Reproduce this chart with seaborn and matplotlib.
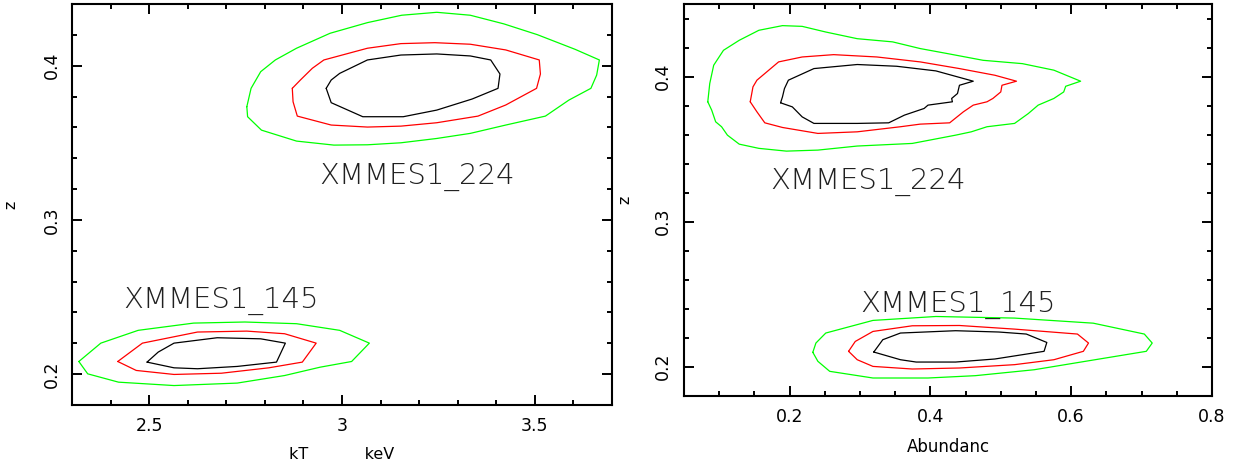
import matplotlib
matplotlib.use("Agg")
import matplotlib.pyplot as plt
import seaborn as sns
from matplotlib.ticker import MultipleLocator

sns.set_style("ticks")
plt.rcParams["font.family"] = ["DejaVu Sans"]
plt.rcParams["text.color"] = "black"
plt.rcParams["axes.labelcolor"] = "black"
plt.rcParams["xtick.color"] = "black"
plt.rcParams["ytick.color"] = "black"

# --- contornos kT x z (XMMES1_224) ---
kt224_green_x = [2.753, 2.764, 2.789, 2.827, 2.882, 2.969, 3.066, 3.155, 3.246, 3.333, 3.420, 3.507,
                 3.605, 3.668, 3.661, 3.646, 3.589, 3.528, 3.425, 3.333, 3.246, 3.153, 3.066, 2.979,
                 2.882, 2.791, 2.755]
kt224_green_y = [0.3734, 0.3853, 0.3961, 0.4037, 0.4113, 0.4210, 0.4279, 0.4327, 0.4346, 0.4327, 0.4271, 0.4201,
                 0.4106, 0.4037, 0.3939, 0.3853, 0.3777, 0.3673, 0.3615, 0.3561, 0.3528, 0.3500, 0.3487, 0.3485,
                 0.3511, 0.3582, 0.3669]
kt224_red_x = [2.871, 2.873, 2.884, 2.972, 3.066, 3.153, 3.246, 3.353, 3.425, 3.505, 3.515, 3.512,
               3.425, 3.333, 3.241, 3.153, 3.066, 2.953, 2.923, 2.892]
kt224_red_y = [0.3853, 0.3766, 0.3673, 0.3615, 0.3602, 0.3608, 0.3630, 0.3673, 0.3745, 0.3853, 0.3946, 0.4037,
               0.4102, 0.4139, 0.4149, 0.4143, 0.4113, 0.4037, 0.3983, 0.3907]
kt224_black_x = [2.959, 2.972, 3.054, 3.159, 3.246, 3.338, 3.405, 3.410, 3.386, 3.333, 3.246, 3.153,
                 3.066, 2.994, 2.972]
kt224_black_y = [0.3853, 0.3760, 0.3669, 0.3669, 0.3712, 0.3784, 0.3853, 0.3946, 0.4037, 0.4063, 0.4076, 0.4069,
                 0.4037, 0.3950, 0.3907]

# --- contornos kT x z (XMMES1_145) ---
kt145_green_x = [2.317, 2.340, 2.420, 2.564, 2.728, 2.851, 2.943, 3.025, 3.071, 2.994, 2.882, 2.748, 2.615,
                 2.471, 2.374]
kt145_green_y = [0.2082, 0.2002, 0.1948, 0.1926, 0.1942, 0.1991, 0.2045, 0.2082, 0.2201, 0.2284, 0.2327, 0.2338,
                 0.2331, 0.2284, 0.2201]
kt145_red_x = [2.418, 2.466, 2.564, 2.687, 2.810, 2.897, 2.933, 2.851, 2.753, 2.625, 2.482]
kt145_red_y = [0.2082, 0.2024, 0.1998, 0.2006, 0.2041, 0.2078, 0.2201, 0.2262, 0.2279, 0.2273, 0.2201]
kt145_black_x = [2.494, 2.564, 2.625, 2.728, 2.830, 2.853, 2.789, 2.676, 2.564, 2.523]
kt145_black_y = [0.2078, 0.2041, 0.2035, 0.2050, 0.2078, 0.2201, 0.2229, 0.2236, 0.2201, 0.2143]

# --- contornos Abundancia x z (XMMES1_224) ---
ab224_green_x = [0.0838, 0.0866, 0.0922, 0.1061, 0.1285, 0.1564, 0.1899, 0.2179, 0.2514, 0.2961, 0.3464, 0.3855,
                 0.4246, 0.4749, 0.5307, 0.5754, 0.6134, 0.5922, 0.5894, 0.5754, 0.5531, 0.5391, 0.5196, 0.4804,
                 0.4581, 0.4358, 0.3743, 0.2961, 0.2402, 0.1955, 0.1564, 0.1285, 0.1117, 0.1034, 0.0950, 0.0894]
ab224_green_y = [0.3826, 0.3952, 0.4078, 0.4181, 0.4250, 0.4319, 0.4351, 0.4346, 0.4307, 0.4261, 0.4239, 0.4193,
                 0.4158, 0.4112, 0.4089, 0.4044, 0.3968, 0.3933, 0.3894, 0.3849, 0.3803, 0.3745, 0.3677, 0.3654,
                 0.3619, 0.3596, 0.3539, 0.3521, 0.3493, 0.3486, 0.3505, 0.3534, 0.3596, 0.3654, 0.3688, 0.3768]
ab224_red_x = [0.1441, 0.1480, 0.1536, 0.1844, 0.2179, 0.2626, 0.3240, 0.3855, 0.4413, 0.4916, 0.5223, 0.5017,
               0.5000, 0.4888, 0.4804, 0.4609, 0.4469, 0.4274, 0.3855, 0.3575, 0.2961, 0.2402, 0.1899, 0.1648,
               0.1536]
ab224_red_y = [0.3826, 0.3929, 0.3975, 0.4101, 0.4135, 0.4151, 0.4135, 0.4101, 0.4055, 0.4009, 0.3968, 0.3940,
               0.3894, 0.3849, 0.3826, 0.3803, 0.3757, 0.3681, 0.3672, 0.3654, 0.3619, 0.3608, 0.3649, 0.3681,
               0.3757]
ab224_black_x = [0.1872, 0.1899, 0.1927, 0.1983, 0.2346, 0.2961, 0.3520, 0.4078, 0.4609, 0.4413, 0.4385, 0.4302,
                 0.4313, 0.3966, 0.3911, 0.3631, 0.3408, 0.2961, 0.2346, 0.2179, 0.2039]
ab224_black_y = [0.3819, 0.3860, 0.3917, 0.3975, 0.4055, 0.4083, 0.4071, 0.4039, 0.3968, 0.3940, 0.3883, 0.3849,
                 0.3826, 0.3803, 0.3780, 0.3734, 0.3681, 0.3677, 0.3677, 0.3722, 0.3791]

# --- contornos Abundancia x z (XMMES1_145) ---
ab145_green_x = [0.2330, 0.2402, 0.2570, 0.3184, 0.3966, 0.4637, 0.5475, 0.6201, 0.7067, 0.7151, 0.7039, 0.6313,
                 0.5196, 0.4078, 0.3184, 0.2514, 0.2374]
ab145_green_y = [0.2099, 0.2037, 0.1968, 0.1922, 0.1922, 0.1938, 0.1979, 0.2037, 0.2106, 0.2163, 0.2225, 0.2300,
                 0.2335, 0.2346, 0.2319, 0.2232, 0.2163]
ab145_red_x = [0.2838, 0.2961, 0.3184, 0.3743, 0.4413, 0.5196, 0.5754, 0.6173, 0.6246, 0.6089, 0.5196, 0.4413,
               0.3743, 0.3184, 0.2933]
ab145_red_y = [0.2106, 0.2048, 0.2002, 0.1984, 0.1991, 0.2014, 0.2048, 0.2106, 0.2163, 0.2225, 0.2259, 0.2284,
               0.2282, 0.2243, 0.2174]
ab145_black_x = [0.3196, 0.3575, 0.3799, 0.4358, 0.4916, 0.5615, 0.5654, 0.5363, 0.4972, 0.4358, 0.3575, 0.3324]
ab145_black_y = [0.2101, 0.2048, 0.2032, 0.2032, 0.2053, 0.2106, 0.2167, 0.2225, 0.2239, 0.2248, 0.2232, 0.2186]

cores = {"green": "#00ff00", "red": "#ff0000", "black": "#000000"}

painel_kt = [
    (kt224_green_x, kt224_green_y, "green"), (kt224_red_x, kt224_red_y, "red"), (kt224_black_x, kt224_black_y, "black"),
    (kt145_green_x, kt145_green_y, "green"), (kt145_red_x, kt145_red_y, "red"), (kt145_black_x, kt145_black_y, "black"),
]
painel_ab = [
    (ab224_green_x, ab224_green_y, "green"), (ab224_red_x, ab224_red_y, "red"), (ab224_black_x, ab224_black_y, "black"),
    (ab145_green_x, ab145_green_y, "green"), (ab145_red_x, ab145_red_y, "red"), (ab145_black_x, ab145_black_y, "black"),
]

fig = plt.figure(figsize=(12.4, 4.62), dpi=100)
ax1 = fig.add_axes([0.0583, 0.1234, 0.435, 0.868])
ax2 = fig.add_axes([0.5516, 0.1435, 0.4258, 0.8478])


def desenha(ax, contornos):
    for xs, ys, c in contornos:
        # fecha o contorno
        sns.lineplot(x=xs + xs[:1], y=ys + ys[:1], sort=False, estimator=None,
                     color=cores[c], lw=0.9, ax=ax)


def estilo(ax):
    for s in ax.spines.values():
        s.set_linewidth(1.5)
        s.set_color("black")
    ax.tick_params(which="both", direction="in", top=True, right=True,
                   width=1.4, color="black", labelsize=12.5, pad=8.5)
    ax.tick_params(which="major", length=7)
    ax.tick_params(which="minor", length=3.6)
    for lbl in ax.get_yticklabels():
        lbl.set_rotation(90)
        lbl.set_va("center")


rotulo = dict(fontsize=21, color="#202020", va="baseline", fontweight="light")

desenha(ax1, painel_kt)
ax1.set_xlim(2.3, 3.7)
ax1.set_ylim(0.18, 0.44)
ax1.xaxis.set_major_locator(MultipleLocator(0.5))
ax1.xaxis.set_minor_locator(MultipleLocator(0.1))
ax1.yaxis.set_major_locator(MultipleLocator(0.1))
ax1.yaxis.set_minor_locator(MultipleLocator(0.02))
ax1.set_xticks([2.5, 3.0, 3.5])
ax1.set_xticklabels(["2.5", "3", "3.5"])
ax1.set_yticks([0.2, 0.3, 0.4])
ax1.set_yticklabels(["0.2", "0.3", "0.4"])
estilo(ax1)
ax1.set_xlabel("kT" + " " * 11 + "keV", fontsize=11.5, labelpad=9)
ax1.set_ylabel("z", fontsize=11.5)
ax1.yaxis.set_label_coords(-0.1007, 0.5)
ax1.text(2.941, 0.3236, "XMMES1_224", **rotulo)
ax1.text(2.433, 0.2431, "XMMES1_145", **rotulo)

desenha(ax2, painel_ab)
ax2.set_xlim(0.05, 0.8)
ax2.set_ylim(0.18, 0.45)
ax2.xaxis.set_major_locator(MultipleLocator(0.2))
ax2.xaxis.set_minor_locator(MultipleLocator(0.05))
ax2.yaxis.set_major_locator(MultipleLocator(0.1))
ax2.yaxis.set_minor_locator(MultipleLocator(0.02))
ax2.set_xticks([0.2, 0.4, 0.6, 0.8])
ax2.set_xticklabels(["0.2", "0.4", "0.6", "0.8"])
ax2.set_yticks([0.2, 0.3, 0.4])
ax2.set_yticklabels(["0.2", "0.3", "0.4"])
estilo(ax2)
ax2.set_xlabel("Abundanc", fontsize=12, labelpad=9)
ax2.set_ylabel("z", fontsize=11.5)
ax2.yaxis.set_label_coords(-0.098, 0.5)
ax2.text(0.172, 0.3229, "XMMES1_224", **rotulo)
ax2.text(0.300, 0.2381, "XMMES1_145", **rotulo)

fig.savefig("out.png", dpi=100)
